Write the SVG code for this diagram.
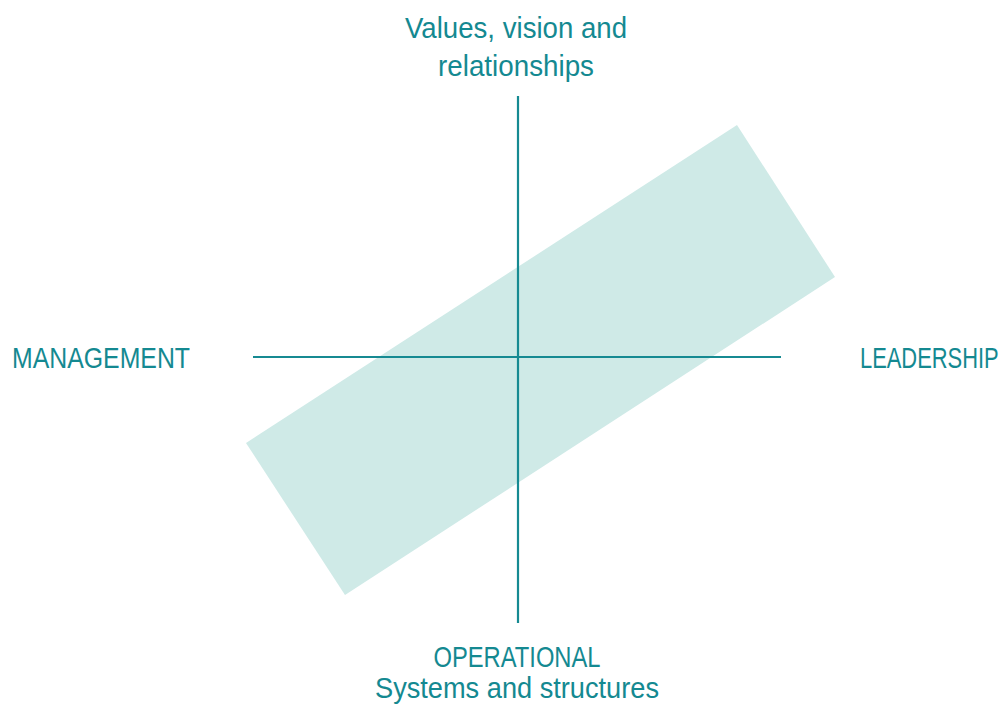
<svg xmlns="http://www.w3.org/2000/svg" width="1006" height="709" viewBox="0 0 1006 709">
<style>
.t{font-family:"Liberation Sans","Open Sans",sans-serif;font-size:30px;fill:#148991}
.ax{stroke:#168a92;stroke-width:2.2;fill:none}
</style>
<rect width="1006" height="709" fill="#ffffff"/>
<g id="band"><polygon points="737,125 835,277 345,595 246,443" fill="#cfeae7"/></g>
<g id="connectors">
<line class="ax" x1="518" y1="96" x2="518" y2="623"/>
<line class="ax" x1="253" y1="357" x2="781" y2="357"/>
</g>
<g id="top"><text class="t" x="516" y="38" text-anchor="middle" textLength="222" lengthAdjust="spacingAndGlyphs">Values, vision and</text>
<text class="t" x="516" y="76" text-anchor="middle" textLength="156" lengthAdjust="spacingAndGlyphs">relationships</text></g>
<g id="left"><text class="t" x="12" y="368" textLength="178" lengthAdjust="spacingAndGlyphs">MANAGEMENT</text></g>
<g id="right"><text class="t" transform="translate(860,368) scale(0.73,1)" x="0" y="0">LEADERSHIP</text></g>
<g id="bottom"><text class="t" x="517" y="667" text-anchor="middle" textLength="167" lengthAdjust="spacingAndGlyphs">OPERATIONAL</text>
<text class="t" x="517" y="698" text-anchor="middle" textLength="284" lengthAdjust="spacingAndGlyphs">Systems and structures</text></g>
</svg>
